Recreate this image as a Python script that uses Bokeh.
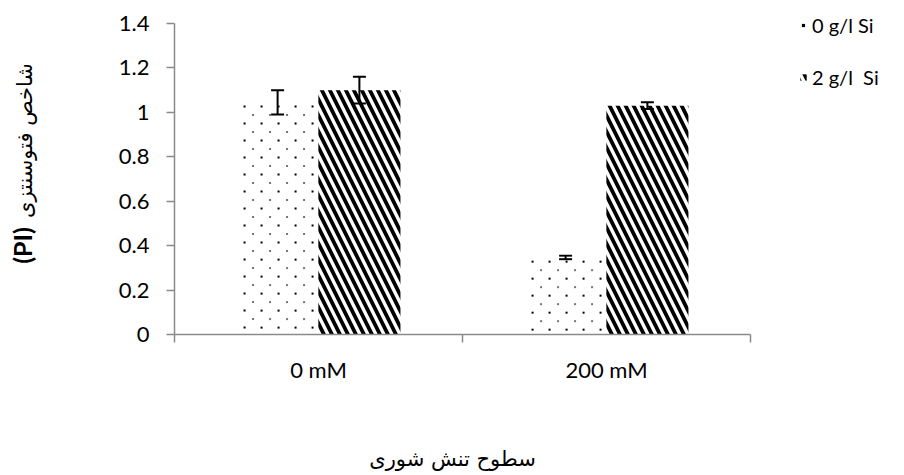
import numpy as np
from bokeh.plotting import figure
from bokeh.models import (ColumnDataSource, Range1d, FixedTicker, Whisker, TeeHead,
                          Legend, LegendItem, Label, LinearAxis)
from bokeh.embed import file_html
from bokeh.resources import INLINE

# ---- data ----
categories = ["0 mM", "200 mM"]
series_names = ["0 g/l Si", "2 g/l  Si"]
si0_values = [1.045, 0.347]
si0_errors = [0.055, 0.008]
si2_values = [1.10, 1.03]
si2_errors = [0.06, 0.015]
y_ticks = [0, 0.2, 0.4, 0.6, 0.8, 1.0, 1.2, 1.4]
y_tick_labels = ["0", "0.2", "0.4", "0.6", "0.8", "1", "1.2", "1.4"]
y_title_fa = "شاخص فتوسنتزی"
y_title_en = "(PI)"
x_title = "سطوح تنش شوری"

# ---- layout constants ----
W, H = 904, 475
X0_PX, X2_PX = 174.0, 750.0      # pixel of x=0 and x=ncat
Y0_PX, Y14_PX = 334.0, 23.0      # pixel of y=0 and y=1.4
ncat = len(categories)
xpp = ncat / (X2_PX - X0_PX)     # data units per px (x)
ypp = 1.4 / (Y0_PX - Y14_PX)     # data units per px (y)
bar_w = 0.285
off = 0.142
latin = "Lato"
arabic = "DejaVu Sans"
axis_gray = "#8a8a8a"
DOT_DX, DOT_DY = 17.0, 8.5       # dot-texture spacing in px

def px_x(px):
    return (px - X0_PX) * xpp

def px_y(py):
    return (Y0_PX - py) * ypp

centers = np.arange(ncat) + 0.5
s0 = np.array(si0_values); e0 = np.array(si0_errors)
s2 = np.array(si2_values); e2 = np.array(si2_errors)
src = ColumnDataSource(dict(
    x0=centers - off, x2=centers + off,
    v0=s0, v2=s2,
    u0=s0 + e0, l0=s0 - e0,
    u2=s2 + e2, l2=s2 - e2,
))

# dotted fill texture for the "0 g/l Si" bars, laid out inside each bar's extent
dx_, dy_, da_ = [], [], []
for xc, top in zip(centers - off, s0):
    left = xc - bar_w / 2
    row = 0
    yy = DOT_DY * 0.5 * ypp
    while yy < top - 2 * ypp:
        shift = 0.0 if row % 2 == 0 else DOT_DX / 2
        xx = left + (8.0 + shift) * xpp
        while xx < left + bar_w - 2 * xpp:
            dx_.append(xx); dy_.append(top - yy); da_.append(1.0 if row % 2 == 0 else 0.55)
            xx += DOT_DX * xpp
        yy += DOT_DY * ypp
        row += 1
dot_src = ColumnDataSource(dict(x=dx_, y=dy_, a=da_))

p = figure(width=W, height=H, output_backend="svg", toolbar_location=None,
           x_axis_location=None, y_axis_location=None,
           x_range=Range1d(-X0_PX * xpp, ncat + (W - X2_PX) * xpp),
           y_range=Range1d(-(H - Y0_PX) * ypp, 1.4 + Y14_PX * ypp),
           min_border_left=0, min_border_right=0, min_border_top=0, min_border_bottom=0)
p.outline_line_color = None
p.grid.visible = False
p.background_fill_color = "white"
p.border_fill_color = "white"

r0 = p.vbar(x="x0", top="v0", width=bar_w, source=src, fill_color="white", line_color=None)
rdots = p.scatter(x="x", y="y", source=dot_src, marker="square", size=2,
                  fill_color="black", fill_alpha="a", line_color=None)
r2 = p.vbar(x="x2", top="v2", width=bar_w, source=src, fill_color="white", line_color=None,
            hatch_pattern="\\", hatch_color="black", hatch_scale=16, hatch_weight=3.8)

for b, u, l in (("x0", "u0", "l0"), ("x2", "u2", "l2")):
    w = Whisker(source=src, base=b, upper=u, lower=l, line_color="black", line_width=2,
                level="overlay",
                upper_head=TeeHead(size=13, line_color="black", line_width=2),
                lower_head=TeeHead(size=13, line_color="black", line_width=2))
    p.add_layout(w)

# y axis
ya = LinearAxis(fixed_location=0, bounds=(0, 1.4))
ya.ticker = FixedTicker(ticks=y_ticks)
ya.major_label_overrides = {t: l for t, l in zip(y_ticks, y_tick_labels)}
ya.axis_line_color = axis_gray
ya.axis_line_width = 1.5
ya.major_tick_line_color = axis_gray
ya.major_tick_line_width = 1.5
ya.major_tick_out = 8
ya.major_tick_in = 0
ya.minor_tick_line_color = None
ya.major_label_standoff = 17
ya.major_label_text_font = latin
ya.major_label_text_font_size = "22px"
ya.major_label_text_color = "black"
p.add_layout(ya, "left")

# x axis
xa = LinearAxis(fixed_location=0, bounds=(0, ncat))
xa.ticker = FixedTicker(ticks=list(centers), minor_ticks=list(range(ncat + 1)))
xa.major_label_overrides = {float(c): n for c, n in zip(centers, categories)}
xa.axis_line_color = axis_gray
xa.axis_line_width = 1.5
xa.major_tick_line_color = None
xa.major_tick_out = 0
xa.major_tick_in = 0
xa.minor_tick_line_color = axis_gray
xa.minor_tick_line_width = 1.5
xa.minor_tick_out = 8
xa.minor_tick_in = 0
xa.major_label_standoff = 13
xa.major_label_text_font = latin
xa.major_label_text_font_size = "22px"
xa.major_label_text_color = "black"
p.add_layout(xa, "below")

# axis titles
p.add_layout(Label(x=px_x(24), y=px_y(140), text=y_title_fa,
                   angle=np.pi / 2, text_align="center", text_baseline="alphabetic",
                   text_font=arabic, text_font_size="21px", text_color="black"))
p.add_layout(Label(x=px_x(21), y=px_y(245), text=y_title_en,
                   angle=np.pi / 2, text_align="center", text_baseline="alphabetic",
                   text_font=latin, text_font_size="25px", text_font_style="bold",
                   text_color="black"))
p.add_layout(Label(x=px_x(452), y=px_y(458), text=x_title,
                   text_align="center", text_baseline="middle",
                   text_font=arabic, text_font_size="21px", text_color="black"))

legend = Legend(items=[LegendItem(label=series_names[0], renderers=[r0, rdots]),
                       LegendItem(label=series_names[1], renderers=[r2])],
                location=(799, H - 89), orientation="vertical")
legend.glyph_width = 8
legend.glyph_height = 8
legend.label_standoff = 5
legend.label_height = 20
legend.spacing = 28
legend.padding = 0
legend.margin = 0
legend.border_line_color = None
legend.background_fill_alpha = 0
legend.label_text_font = latin
legend.label_text_font_size = "20px"
legend.label_text_color = "black"
p.add_layout(legend, "center")

open("out.html", "w").write(file_html(p, INLINE))
